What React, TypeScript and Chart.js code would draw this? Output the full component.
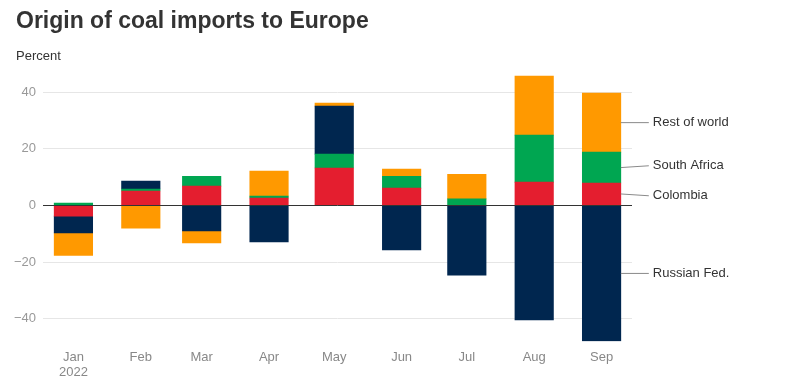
import React, { useEffect, useRef } from "react";
import { Chart, registerables } from "chart.js";

Chart.register(...registerables);

const months = ["Jan", "Feb", "Mar", "Apr", "May", "Jun", "Jul", "Aug", "Sep"];
const monthDates = [
  "2022-01-01", "2022-02-01", "2022-03-01", "2022-04-01", "2022-05-01",
  "2022-06-01", "2022-07-01", "2022-08-01", "2022-09-01",
];
const colombia = [-3.8, 5.1, 6.8, 2.6, 13.2, 6.1, 0, 8.2, 7.9];
const southAfrica = [0.8, 0.7, 3.5, 0.7, 4.9, 4.2, 2.3, 16.6, 10.9];
const russianFed = [-5.9, 2.8, -9.0, -12.9, 16.9, -15.7, -24.6, -40.4, -47.8];
const restOfWorld = [-7.9, -8.0, -4.2, 8.8, 1.1, 2.5, 8.7, 20.8, 20.8];
const yTicks = [-40, -20, 0, 20, 40];

const DAY = 86400000;
const monthX = monthDates.map((d) => Date.parse(d + "T00:00:00Z"));

const seriesNames = ["Colombia", "South Africa", "Russian Fed.", "Rest of world"];
const seriesValues = [colombia, southAfrica, russianFed, restOfWorld];
const seriesColors = ["#E41E2F", "#00A651", "#00264F", "#FF9900"];

const FONT = "'Liberation Sans', Arial, sans-serif";

const sideLabels = {
  id: "sideLabels",
  afterDatasetsDraw(chart: any) {
    const { ctx, chartArea, scales } = chart;
    const y0 = Math.round(scales.y.getPixelForValue(0)) + 0.5;
    ctx.save();
    ctx.strokeStyle = "#333333";
    ctx.lineWidth = 1;
    ctx.beginPath();
    ctx.moveTo(chartArea.left, y0);
    ctx.lineTo(chartArea.right, y0);
    ctx.stroke();

    const items: any[] = [];
    chart.data.datasets.forEach((ds: any, i: number) => {
      const meta = chart.getDatasetMeta(i);
      const el: any = meta.data[meta.data.length - 1];
      if (!el) return;
      const p = el.getProps(["x", "y", "base", "width"], true);
      const c = (p.y + p.base) / 2;
      items.push({ name: ds.label, c, ly: c, x: p.x + p.width / 2 });
    });
    items.sort((a, b) => a.c - b.c);
    const gap = 30;
    for (let iter = 0; iter < 50; iter++) {
      let moved = false;
      for (let k = 0; k < items.length - 1; k++) {
        const a = items[k], b = items[k + 1];
        const d = b.ly - a.ly;
        if (d < gap - 0.01) {
          const push = (gap - d) / 2;
          a.ly -= push;
          b.ly += push;
          moved = true;
        }
      }
      if (!moved) break;
    }
    ctx.font = `13px ${FONT}`;
    ctx.textBaseline = "middle";
    ctx.textAlign = "left";
    items.forEach((it) => {
      ctx.strokeStyle = "#8a8a8a";
      ctx.beginPath();
      ctx.moveTo(it.x, it.c);
      ctx.lineTo(it.x + 28, it.ly);
      ctx.stroke();
      ctx.fillStyle = "#333333";
      ctx.fillText(it.name, it.x + 32, it.ly);
    });
    ctx.restore();
  },
};

export default function App() {
  const ref = useRef<HTMLCanvasElement>(null);
  useEffect(() => {
    if (!ref.current) return;
    const chart = new Chart(ref.current, {
      type: "bar",
      data: {
        datasets: seriesNames.map((name, i) => ({
          label: name,
          data: seriesValues[i].map((v, j) => ({ x: monthX[j], y: v })),
          backgroundColor: seriesColors[i],
          borderWidth: 0,
          barThickness: 38.5,
        })),
      },
      options: {
        animation: false,
        responsive: false,
        maintainAspectRatio: false,
        layout: { padding: { left: 0, right: 163, top: 75, bottom: 0 } },
        plugins: {
          legend: { display: false },
          tooltip: { enabled: false },
          title: { display: false },
        },
        scales: {
          x: {
            type: "linear",
            stacked: true,
            offset: false,
            min: monthX[0] - 14 * DAY,
            max: monthX[monthX.length - 1] + 14 * DAY,
            grid: { display: false, drawTicks: false, offset: false },
            border: { display: false },
            afterBuildTicks: (s: any) => {
              s.ticks = monthX.map((v) => ({ value: v }));
            },
            afterFit: (s: any) => {
              s.height = 48.5;
            },
            ticks: {
              autoSkip: false,
              maxRotation: 0,
              padding: 8,
              color: "#888888",
              font: { family: FONT, size: 13, lineHeight: 1.2 },
              callback: (v: any) => {
                const i = monthX.indexOf(Number(v));
                if (i < 0) return "";
                return i === 0 ? [months[i], "2022"] : months[i];
              },
            },
          },
          y: {
            type: "linear",
            stacked: true,
            min: -48,
            max: 46,
            grid: {
              color: (c: any) => (c.tick && c.tick.value === 0 ? "rgba(0,0,0,0)" : "#e6e6e6"),
              drawTicks: false,
            },
            border: { display: false },
            afterBuildTicks: (s: any) => {
              s.ticks = yTicks.map((v) => ({ value: v }));
            },
            afterFit: (s: any) => {
              s.width = 43;
            },
            ticks: {
              padding: 7,
              color: "#999999",
              font: { family: FONT, size: 13 },
              callback: (v: any) => (Number(v) < 0 ? "\u2212" + Math.abs(Number(v)) : String(v)),
            },
          },
        },
      },
      plugins: [sideLabels],
    });
    return () => chart.destroy();
  }, []);

  return (
    <div style={{ position: "fixed", left: 0, top: 0, width: 795, height: 390, background: "#fff", overflow: "hidden" }}>
      <canvas ref={ref} width={795} height={390} style={{ position: "absolute", left: 0, top: 0, width: 795, height: 390 }} />
      <div
        style={{
          position: "absolute", left: 16, top: 9, fontFamily: FONT, fontWeight: "bold",
          fontSize: 23, lineHeight: "23px", color: "#333333", whiteSpace: "nowrap",
        }}
      >
        Origin of coal imports to Europe
      </div>
      <div
        style={{
          position: "absolute", left: 16, top: 49, fontFamily: FONT, fontSize: 13,
          lineHeight: "13px", color: "#333333", whiteSpace: "nowrap",
        }}
      >
        Percent
      </div>
    </div>
  );
}
